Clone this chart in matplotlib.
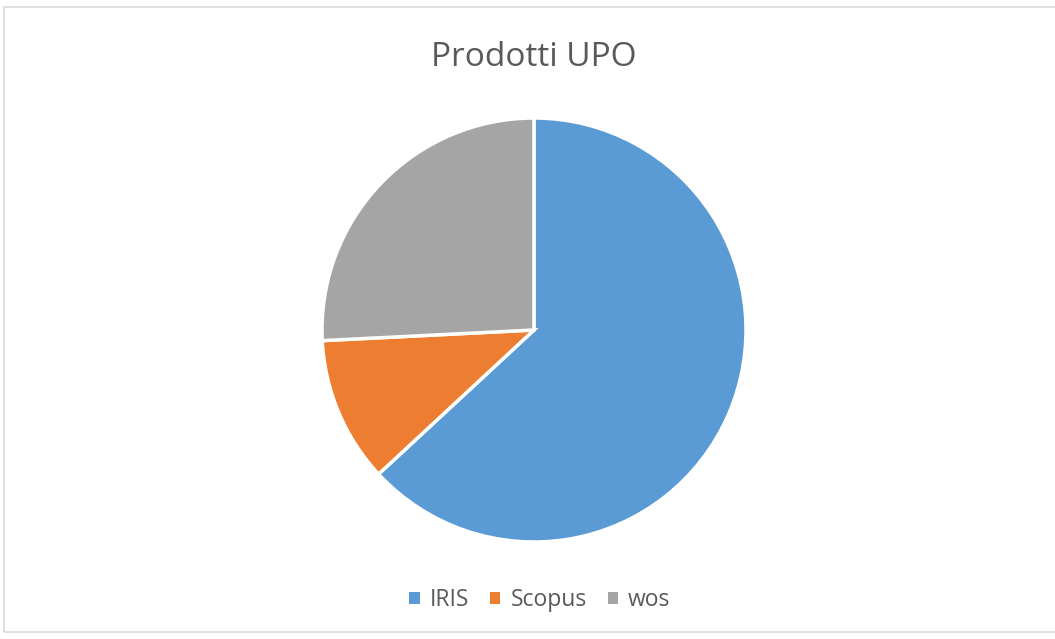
import matplotlib.pyplot as plt
from matplotlib.patches import Rectangle

labels = ["IRIS", "Scopus", "wos"]
values = [63.1, 11.1, 25.8]
colors = ["#5B9BD5", "#ED7D31", "#A5A5A5"]

plt.rcParams['font.family'] = ['Open Sans', 'DejaVu Sans']

W, H = 1055, 639
fig = plt.figure(figsize=(W / 100, H / 100), dpi=100)

# light frame like the spreadsheet chart area
fig.patches.append(Rectangle((4 / W, 1 - 632 / H), 1.0, (632 - 7) / H,
                             transform=fig.transFigure, fill=False,
                             edgecolor="#D9D9D9", linewidth=1.2))

cx, cy, r = 534, 330, 212
ax = fig.add_axes([(cx - r) / W, 1 - (cy + r) / H, 2 * r / W, 2 * r / H])
wedges, _ = ax.pie(values, colors=colors, startangle=90, counterclock=False,
                   wedgeprops=dict(edgecolor="white", linewidth=2.5))
ax.set_aspect("equal")
ax.set_xlim(-1, 1)
ax.set_ylim(-1, 1)

fig.text(cx / W, 1 - 58 / H, "Prodotti UPO", ha="center", va="center",
         fontsize=24, color="#595959")

leg = fig.legend(wedges, labels, loc="center", bbox_to_anchor=(540 / W, 1 - 600 / H),
                 ncol=3, frameon=False, fontsize=16.5, labelcolor="#595959",
                 handlelength=0.45, handleheight=0.45, handletextpad=0.45,
                 columnspacing=0.9)
for h in leg.legend_handles:
    h.set_linewidth(0)

fig.savefig("out.png", dpi=100)
